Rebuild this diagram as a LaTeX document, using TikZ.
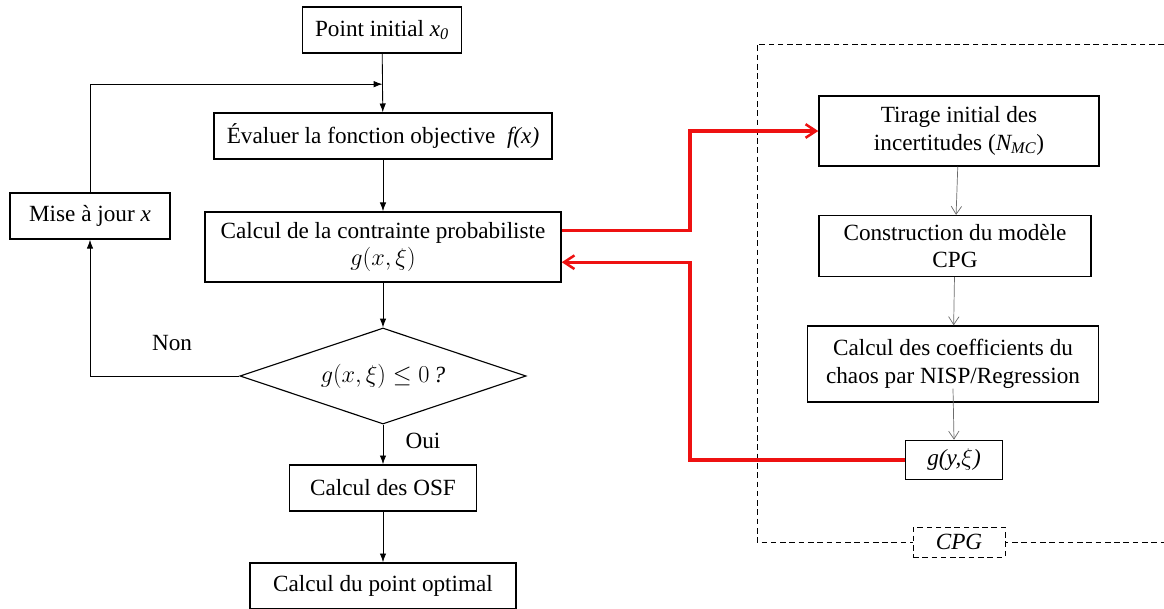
\documentclass[tikz,border=0pt]{standalone}
\usepackage{fontspec}
\setmainfont{Liberation Serif}
\usetikzlibrary{arrows.meta, positioning, shapes.geometric, calc}
\definecolor{cred}{HTML}{EE1111}
\definecolor{cgrey}{HTML}{6B6B6B}
\tikzset{
  every picture/.style={font=\fontsize{16.5}{19.5}\selectfont, line width=0.6pt},
  box/.style={draw, line width=1pt, align=center, inner sep=4pt, minimum height=1.15cm},
  decision/.style={draw, line width=0.8pt, diamond, aspect=2.98, inner sep=0pt, minimum width=7.15cm, minimum height=2.4cm},
  arrow/.style={-{Latex[length=2.2mm, width=1.6mm]}},
  greyarrow/.style={-{Straight Barb[length=2mm, width=2.6mm]}, draw=cgrey, line width=0.5pt},
  redarrow/.style={-{Straight Barb[length=2.6mm, width=3.4mm, line width=1.8pt]}, draw=cred, line width=2.4pt},
  cadre/.style={dashed, dash pattern=on 4pt off 2.6pt, line width=0.7pt},
  note/.style={inner sep=0pt},
}

\begin{document}
\begin{tikzpicture}[x=0.025cm, y=-0.025cm]
  \useasboundingbox (0,0) rectangle (1164,608);
  % main loop
  \node[box, minimum width=3.98cm] (init) at (382,30) {Point initial \textit{x\textsubscript{0}}};
  \node[box, minimum width=8.45cm] (eval) at (383,136) {Évaluer la fonction objective \ \textit{f(x)}};
  \node[box, minimum width=8.9cm, minimum height=1.75cm] (contr) at (383,247) {Calcul de la contrainte probabiliste\\ $g(x,\xi)$};
  \node[decision] (test) at (383,376) {$g(x,\xi)\leq 0\,$\textit{?}};
  \node[box, minimum width=4.68cm] (osf) at (383,488) {Calcul des OSF};
  \node[box, minimum width=6.65cm] (optim) at (383,586) {Calcul du point optimal};
  \node[box, minimum width=4cm] (maj) at (90,216) {Mise à jour \textit{x}};
  \coordinate (loopin) at ($(init.south)!0.52!(eval.north)$);
  \draw[arrow] (init) -- (eval);
  \draw[arrow] (eval) -- (contr);
  \draw[arrow] (contr) -- (test);
  \draw[arrow] (test) -- (osf);
  \draw[arrow] (osf) -- (optim);
  \draw[arrow] (test.west) -| (maj.south);
  \draw[arrow] (maj.north) |- (loopin);
  \node[note] (non) at (172,343) {Non};
  \node[note] (oui) at (423,441) {Oui};
  % CPG block
  \draw[cadre] (1164,44) -- (757,44) -- (757,542) -- (1164,542);
  \node[draw, cadre, fill=white, minimum width=2.3cm, minimum height=0.75cm, inner sep=1pt] (cpg) at (959,542) {\textit{CPG}};
  \node[box, minimum width=7cm, minimum height=1.75cm] (tir) at (959,131) {Tirage initial des\\ incertitudes (\textit{N\textsubscript{MC}})};
  \node[box, minimum width=6.8cm, minimum height=1.52cm] (constr) at (955,246) {Construction du modèle\\ CPG};
  \node[box, minimum width=7.28cm, minimum height=1.9cm] (coef) at (953,364) {Calcul des coefficients du\\ chaos par NISP/Regression};
  \node[box, minimum width=2.43cm, minimum height=0.98cm] (gy) at (954,460) {\textit{g(y,}$\xi$\textit{)}};
  \draw[greyarrow] (tir) -- (constr);
  \draw[greyarrow] (constr) -- (coef);
  \draw[greyarrow] (coef.center |- coef.south) ++(0,-14) -- (gy.north);
  % red links
  \coordinate (split) at (690,0);
  \coordinate (cout) at ([yshift=0.42cm]contr.east);
  \coordinate (cin) at ([yshift=-0.38cm]contr.east);
  \draw[redarrow] (cout) -| (split |- tir.west) -- (tir.west);
  \draw[redarrow] (gy.west) -| (split |- cin) -- (cin);
\end{tikzpicture}
\end{document}
